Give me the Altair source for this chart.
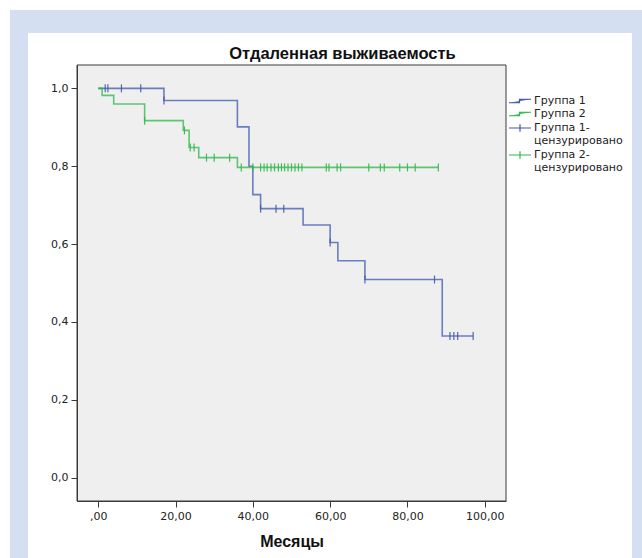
import altair as alt
import pandas as pd

# ---- data ----
g1_times = [0, 17, 36, 39, 40, 42, 53, 60, 62, 69, 89, 97]
g1_surv = [1.0, 0.969, 0.901, 0.80, 0.727, 0.691, 0.649, 0.604, 0.557, 0.509, 0.364, 0.364]

g2_times = [0, 1, 4, 12, 22, 23.5, 26, 36, 88]
g2_surv = [1.0, 0.982, 0.960, 0.917, 0.892, 0.848, 0.822, 0.797, 0.797]

g1_cens_t = [1.8, 2.5, 6, 11, 17, 42, 46, 48, 60, 69, 87, 91, 92, 93, 97]
g1_cens_s = [1.0, 1.0, 1.0, 1.0, 0.969, 0.691, 0.691, 0.691, 0.604, 0.509, 0.509,
             0.364, 0.364, 0.364, 0.364]

g2_cens_t = [12, 22.3, 23.8, 24.8, 28, 30, 34, 37, 40, 42, 42.9, 43.7, 44.7, 45.6,
             46.6, 47.4, 48.2, 49.1, 50, 50.9, 51.8, 52.7, 59, 59.7, 61.8, 62.7,
             70, 73, 74, 78, 80, 82, 88]
g2_cens_s = [0.917, 0.892, 0.848, 0.848, 0.822, 0.822, 0.822] + [0.797] * 26

series = ["Группа 1", "Группа 2", "Группа 1-\nцензурировано", "Группа 2-\nцензурировано"]
colors = ["#3E58AC", "#2EB848", "#3E58AC", "#2EB848"]

x_ticks = [0, 20, 40, 60, 80, 100]
y_ticks = [0.0, 0.2, 0.4, 0.6, 0.8, 1.0]

# ---- tables ----
lines = pd.DataFrame(
    {"t": g1_times + g2_times,
     "s": g1_surv + g2_surv,
     "series": [series[0]] * len(g1_times) + [series[1]] * len(g2_times)}
)
cens = pd.DataFrame(
    {"t": g1_cens_t + g2_cens_t,
     "s": g1_cens_s + g2_cens_s,
     "series": [series[2]] * len(g1_cens_t) + [series[3]] * len(g2_cens_t)}
)
# legend-only entries, kept far outside the visible canvas
legend_df = pd.DataFrame({"series": series, "t": [-1000] * 4, "s": [1.0] * 4})
dummy = pd.DataFrame({"a": [0]})

W, H = 429, 436
FONT = "DejaVu Sans"

xs = alt.Scale(domain=[-5.5, 105.5], nice=False, zero=False)
ys = alt.Scale(domain=[-0.06, 1.06], nice=False, zero=False)
cs = alt.Scale(domain=series, range=colors)

step_path = "M-1,0.35L1.1,0.35L1.1,-0.35L3.4,-0.35"
plus_path = "M-1,0L3.4,0M1.2,-0.75L1.2,0.75"
ss = alt.Scale(domain=series, range=[step_path, step_path, plus_path, plus_path])

x_axis = alt.Axis(values=x_ticks, title="Месяцы",
                  labelExpr="datum.value == 0 ? ',00' : replace(format(datum.value, '.2f'), '.', ',')",
                  grid=False, zindex=1)
y_axis = alt.Axis(values=y_ticks, title=None,
                  labelExpr="replace(format(datum.value, '.1f'), '.', ',')",
                  grid=False, zindex=1)

blue_bg = alt.Chart(dummy).mark_rect(color="#d4e0f1").encode(
    x=alt.value(-67), x2=alt.value(570), y=alt.value(-55), y2=alt.value(500))
white_bg = alt.Chart(dummy).mark_rect(color="#ffffff").encode(
    x=alt.value(-49), x2=alt.value(555), y=alt.value(-32), y2=alt.value(500))
plot_bg = alt.Chart(dummy).mark_rect(fill="#efefef", stroke="#3a3a3a", strokeWidth=1).encode(
    x=alt.value(0), x2=alt.value(W), y=alt.value(0), y2=alt.value(H))

leg = alt.Legend(title=None, orient="none", legendX=W + 2, legendY=30,
                 labelExpr="split(datum.label, '\\n')",
                 labelFont=FONT, labelFontSize=11, labelColor="#222",
                 symbolSize=100, symbolStrokeWidth=1.2, symbolFillColor="transparent",
                 symbolOpacity=1, symbolType="circle", rowPadding=2, labelOffset=14, zindex=1)

legend_layer = alt.Chart(legend_df).mark_point(filled=False).encode(
    x=alt.X("t:Q", scale=xs, axis=x_axis),
    y=alt.Y("s:Q", scale=ys, axis=y_axis),
    color=alt.Color("series:N", scale=cs, legend=leg),
    shape=alt.Shape("series:N", scale=ss, legend=leg),
)

line_layer = alt.Chart(lines).mark_line(interpolate="step-after", strokeWidth=1.6, opacity=0.75).encode(
    x=alt.X("t:Q", scale=xs),
    y=alt.Y("s:Q", scale=ys),
    color=alt.Color("series:N", scale=cs),
    detail="series:N",
    order="t:Q",
)

tick_layer = alt.Chart(cens).mark_tick(orient="vertical", size=8, thickness=1.2, opacity=0.9).encode(
    x=alt.X("t:Q", scale=xs),
    y=alt.Y("s:Q", scale=ys),
    color=alt.Color("series:N", scale=cs),
)

chart = alt.layer(blue_bg, white_bg, plot_bg, legend_layer, line_layer, tick_layer).properties(
    width=W, height=H,
    title=alt.TitleParams("Отдаленная выживаемость", font="Liberation Sans", fontSize=16.5,
                          fontWeight="bold", color="#111", anchor="middle", frame="group",
                          dx=51, dy=58, offset=6, zindex=1),
    autosize=alt.AutoSizeParams(type="none"),
    padding={"left": 77, "top": 65, "right": 136, "bottom": 57},
).configure(background="#ffffff").configure_view(stroke=None, fill=None).configure_axis(
    labelFont=FONT, labelFontSize=11, labelColor="#222",
    domainColor="#3a3a3a", tickColor="#3a3a3a", tickSize=6, labelPadding=3,
    titleFont="Liberation Sans", titleFontSize=16, titleFontWeight="bold", titleColor="#111",
    titlePadding=12,
)

chart.save("out.html", embed_options={"renderer": "svg", "actions": False})
